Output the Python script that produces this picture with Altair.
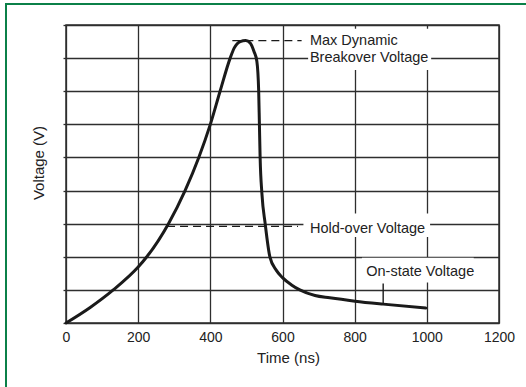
import altair as alt
import pandas as pd

# ---- data ----
time_ns = [0, 67, 131, 200, 224, 284, 330, 368, 400, 427, 455, 466,
           483, 498, 511, 521, 529, 534, 536, 538, 543, 552, 565, 583, 600,
           625, 648, 690, 731, 801, 879, 997]
voltage = [0.0, 0.47, 1.0, 1.69, 2.0, 3.0, 4.0, 5.0, 6.0, 7.0, 8.0, 8.3,
           8.5, 8.53, 8.45, 8.2, 7.9, 7.0, 6.0, 5.0, 3.9, 3.0, 2.0, 1.59, 1.37,
           1.15, 1.0, 0.83, 0.76, 0.66, 0.57, 0.45]

x_ticks = [0, 200, 400, 600, 800, 1000, 1200]
y_grid = [0, 1, 2, 3, 4, 5, 6, 7, 8, 9]

max_dyn_v = 8.53
max_dash_t = [461, 653]
hold_v = 2.92
hold_dash_t = [280, 643]

label_text = ["Max Dynamic", "Breakover Voltage", "Hold-over Voltage", "On-state Voltage"]
label_t = [676, 676, 676, 832]
label_v = [8.39, 7.87, 2.73, 1.41]

mask_t1 = [671, 658, 820]
mask_t2 = [1012, 1009, 1130]
mask_v1 = [7.64, 2.60, 1.22]
mask_v2 = [8.89, 3.31, 1.97]

leader_t = [879, 879]
leader_v = [0.57, 1.19]

FONT = "Liberation Sans"
INK = "#1a1a1a"
GRID = "#2e2e2e"

xs = alt.Scale(domain=[0, 1200], nice=False, zero=False)
ys = alt.Scale(domain=[0, 9], nice=False, zero=False)

x_axis = alt.Axis(
    values=x_ticks, format="d", title="Time (ns)", grid=True, gridColor=GRID,
    gridWidth=1.3, domain=False, ticks=False, labelFont=FONT, labelFontSize=14,
    labelColor="#222", labelPadding=7, labelFlush=False, labelOverlap=False,
    titleFont=FONT, titleFontSize=15, titleFontWeight="normal",
    titleColor="#222", titleX=222, titleY=39.6, titleBaseline="alphabetic",
    titleAlign="center", zindex=0)
y_axis = alt.Axis(
    values=y_grid, title="Voltage (V)", grid=True, gridColor=GRID, gridWidth=1.3,
    domain=False, ticks=True, tickSize=3, tickColor=GRID, tickWidth=1.3,
    labels=False, titleFont=FONT, titleFontSize=15, titleFontWeight="normal",
    titleColor="#222", titleX=-22.4, titleY=137.5, titleAngle=270,
    titleBaseline="alphabetic", titleAlign="center", zindex=0)


def X(f):
    return alt.X(f, scale=xs, axis=x_axis)


def Y(f):
    return alt.Y(f, scale=ys, axis=y_axis)


curve_df = pd.DataFrame({"t": time_ns, "v": voltage})
curve = alt.Chart(curve_df).mark_line(
    color=INK, strokeWidth=3, interpolate="monotone", strokeCap="round"
).encode(x=X("t:Q"), y=Y("v:Q"))

mask_df = pd.DataFrame({"t1": mask_t1, "t2": mask_t2, "v1": mask_v1, "v2": mask_v2})
masks = alt.Chart(mask_df).mark_rect(color="white", opacity=1).encode(
    x=X("t1:Q"), x2="t2:Q", y=Y("v1:Q"), y2="v2:Q",
)

dash_df = pd.DataFrame({
    "t": max_dash_t + hold_dash_t,
    "v": [max_dyn_v, max_dyn_v, hold_v, hold_v],
    "g": ["max", "max", "hold", "hold"],
})
dashes = alt.Chart(dash_df).mark_line(
    color=INK, strokeWidth=1.3, strokeDash=[8, 5]
).encode(x=X("t:Q"), y=Y("v:Q"), detail="g:N")

leader_df = pd.DataFrame({"t": leader_t, "v": leader_v})
leader = alt.Chart(leader_df).mark_line(color=INK, strokeWidth=1.4).encode(
    x=X("t:Q"), y=Y("v:Q"))

label_df = pd.DataFrame({"t": label_t, "v": label_v, "s": label_text})
labels = alt.Chart(label_df).mark_text(
    align="left", baseline="alphabetic", font=FONT, fontSize=14.5, color="#222"
).encode(x=X("t:Q"), y=Y("v:Q"), text="s:N")

one = pd.DataFrame({"a": [0]})
GREEN = "#0b8048"
border_left = alt.Chart(one).mark_rule(color=GREEN, strokeWidth=2).encode(
    x=alt.value(-60), y=alt.value(-21), y2=alt.value(362))
border_top = alt.Chart(one).mark_rule(color=GREEN, strokeWidth=2).encode(
    x=alt.value(-61), x2=alt.value(460), y=alt.value(-21))

chart = alt.layer(
    curve, masks, dashes, leader, labels, border_left, border_top
).properties(
    width=433, height=298,
    autosize=alt.AutoSizeParams(type="none"),
    padding={"left": 66, "top": 25, "right": 27, "bottom": 64},
    background="white",
).configure_view(stroke=GRID, strokeWidth=1.5)

chart.save("out.html", embed_options={"renderer": "svg", "actions": False})
